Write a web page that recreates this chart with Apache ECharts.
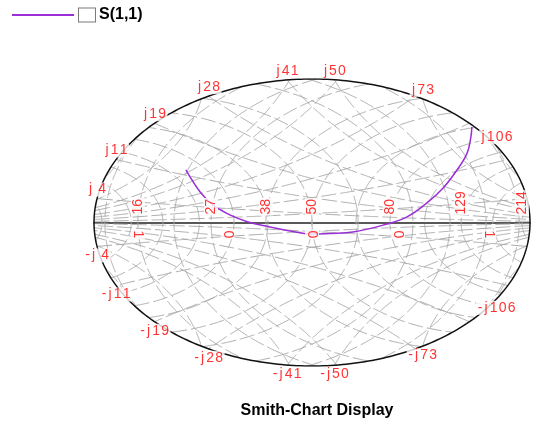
<!DOCTYPE html>
<html>
<head>
<meta charset="utf-8">
<script src="https://cdn.jsdelivr.net/npm/echarts@6/dist/echarts.min.js"></script>
<style>
  html, body { margin: 0; padding: 0; background: #fff; }
  #smithChart { width: 534px; height: 421px; }
</style>
</head>
<body>
<div id="smithChart"></div>
<script>
  // chart reference impedance and the |Γ| shown at the rim (zoomed smith chart)
  const Z0 = 50
  const RHO = 0.645

  // grid circles, ohms
  const resistances = [6, 12, 16, 21, 27, 38, 50, 65, 80, 100, 129, 165, 214, 320]
  const reactances = [4, 11, 19, 28, 41, 50, 73, 106, 160, 250]

  // labels
  const realLabels = [16, 27, 38, 50, 80, 129, 214]
  const admitLabelAt = [16, 30, 50, 84, 160]
  const admitLabels = ['1', '0', '0', '0', '1']
  const rimLabels = [4, 11, 19, 28, 41, 50, 73, 106]

  // S(1,1) trace (reflection coefficient)
  const s11Re = [-0.373, -0.331, -0.293, -0.243, -0.189, -0.124, -0.065, 0.003, 0.053, 0.121, 0.222, 0.281, 0.340, 0.388, 0.429, 0.459, 0.470, 0.473]
  const s11Im = [0.236, 0.137, 0.079, 0.034, 0.002, -0.020, -0.038, -0.052, -0.049, -0.043, -0.007, 0.025, 0.088, 0.155, 0.236, 0.312, 0.384, 0.429]

  const purple = '#9a2fd6'
  const red = '#ff0000'
  const font = 'Liberation Sans, Arial, sans-serif'

  function gammaOf (r, x) {
    let den = (r + 1) * (r + 1) + x * x
    return [(r * r + x * x - 1) / den, (2 * x) / den]
  }

  // circle clipped to |Γ| <= RHO, returns polylines
  function clipCircle (cx, cy, a) {
    let steps = Math.max(720, Math.ceil(a * 2 * Math.PI / 0.003))
    let parts = []
    let cur = []
    for (let i = 0; i <= steps; i++) {
      let t = i / steps * 2 * Math.PI
      let p = [cx + a * Math.cos(t), cy + a * Math.sin(t)]
      if (Math.hypot(p[0], p[1]) <= RHO) {
        cur.push(p)
      } else {
        if (cur.length > 1) parts.push(cur)
        cur = []
      }
    }
    if (cur.length > 1) parts.push(cur)
    return parts
  }

  let gridPaths = []
  resistances.forEach(function (R) {
    let r = R / Z0
    gridPaths = gridPaths.concat(clipCircle(r / (1 + r), 0, 1 / (1 + r)))
  })
  reactances.forEach(function (X) {
    let x = X / Z0
    gridPaths = gridPaths.concat(clipCircle(1, 1 / x, 1 / x))
    gridPaths = gridPaths.concat(clipCircle(1, -1 / x, 1 / x))
  })
  // admittance family = impedance family mirrored through the centre
  gridPaths = gridPaths.concat(gridPaths.map(function (path) {
    return path.map(function (p) { return [-p[0], -p[1]] })
  }))

  let rimPath = []
  for (let i = 0; i <= 360; i++) {
    let t = i * Math.PI / 180
    rimPath.push([RHO * Math.cos(t), RHO * Math.sin(t)])
  }

  // where a reactance arc meets the rim
  function rimPoint (xn) {
    let k = RHO * RHO
    let b = 1 + k
    let c = 1 - k
    let r = (b - Math.sqrt(b * b - c * c * (1 + xn * xn))) / c
    return gammaOf(r, xn)
  }

  let rimLabelData = []
  rimLabels.forEach(function (X) {
    let txt = String(X).padStart(2, ' ')
    let p = rimPoint(X / Z0)
    rimLabelData.push({ value: [p[0], p[1]], name: 'j' + txt, label: { offset: [0, -9] } })
    rimLabelData.push({ value: [p[0], -p[1]], name: '-j' + txt, label: { offset: [0, 9] } })
  })

  let realLabelData = realLabels.map(function (R) {
    return { value: [gammaOf(R / Z0, 0)[0], 0], name: String(R) }
  })
  let admitLabelData = admitLabelAt.map(function (R, i) {
    return { value: [gammaOf(R / Z0, 0)[0], 0], name: admitLabels[i] }
  })

  let traceData = s11Re.map(function (v, i) { return [v, s11Im[i]] })

  // the old chart font is widely spaced: one rich cell per character
  function spaced (txt) {
    return txt.split('').map(function (ch) {
      if (ch === ' ') return '{s| }'
      if (ch === 'j' || ch === '-') return '{n|' + ch + '}'
      return '{c|' + ch + '}'
    }).join('')
  }

  let labelFont = {
    color: red,
    fontSize: 14,
    fontFamily: font,
  }

  let option = {
    animation: false,
    title: {
      text: 'Smith-Chart Display',
      left: 312,
      textAlign: 'center',
      top: 398,
      textStyle: { fontSize: 16, fontWeight: 'bold', color: '#000', fontFamily: font },
    },
    legend: {
      left: 7,
      top: 2,
      itemWidth: 62,
      itemHeight: 2,
      data: [{ name: 'S(1,1)', icon: 'rect' }],
      selectedMode: false,
      formatter: function (name) {
        return '{box|}{t|' + name + '}'
      },
      textStyle: {
        rich: {
          box: {
            width: 16,
            height: 13,
            borderColor: '#7a7a7a',
            borderWidth: 1,
            backgroundColor: '#fff',
          },
          t: {
            fontSize: 16,
            fontWeight: 'bold',
            color: '#000',
            fontFamily: font,
            padding: [0, 0, 0, 4],
          },
        },
      },
    },
    grid: { left: 94, right: 4, top: 79, bottom: 55 },
    xAxis: {
      type: 'value',
      min: -RHO,
      max: RHO,
      axisLine: { show: true, onZero: true, lineStyle: { color: '#222', width: 1.5 } },
      axisTick: { show: false },
      axisLabel: { show: false },
      splitLine: { show: false },
    },
    yAxis: {
      type: 'value',
      min: -RHO,
      max: RHO,
      show: false,
    },
    series: [
      {
        type: 'lines',
        coordinateSystem: 'cartesian2d',
        polyline: true,
        silent: true,
        z: 1,
        lineStyle: { color: '#a9a9a9', width: 1, opacity: 1, type: [15, 4] },
        data: gridPaths.map(function (c) { return { coords: c } }),
      },
      {
        type: 'lines',
        coordinateSystem: 'cartesian2d',
        polyline: true,
        silent: true,
        z: 2,
        lineStyle: { color: '#111', width: 1.5, opacity: 1 },
        data: [{ coords: rimPath }],
      },
      {
        name: 'S(1,1)',
        type: 'line',
        z: 4,
        smooth: 0.4,
        showSymbol: false,
        color: purple,
        lineStyle: { color: purple, width: 1.5 },
        data: traceData,
      },
      {
        type: 'scatter',
        z: 6,
        silent: true,
        symbolSize: 1,
        itemStyle: { color: 'transparent' },
        label: {
          show: true,
          position: 'inside',
          formatter: function (p) { return spaced(p.name) },
          backgroundColor: '#fff',
          padding: [0, 1],
          rich: {
            c: Object.assign({ width: 9, align: 'center' }, labelFont),
            n: Object.assign({ width: 6, align: 'center' }, labelFont),
            s: Object.assign({ width: 4 }, labelFont),
          },
        },
        data: rimLabelData,
      },
      {
        type: 'scatter',
        z: 6,
        silent: true,
        symbolSize: 1,
        itemStyle: { color: 'transparent' },
        label: Object.assign({
          show: true,
          position: 'inside',
          rotate: 90,
          align: 'left',
          verticalAlign: 'middle',
          offset: [7, 0],
          formatter: '{b}',
          backgroundColor: '#fff',
          padding: [0, 1],
        }, labelFont),
        data: realLabelData,
      },
      {
        type: 'scatter',
        z: 6,
        silent: true,
        symbolSize: 1,
        itemStyle: { color: 'transparent' },
        label: Object.assign({
          show: true,
          position: 'inside',
          rotate: -90,
          align: 'left',
          verticalAlign: 'middle',
          offset: [7, 0],
          formatter: '{b}',
          backgroundColor: '#fff',
          padding: [0, 1],
        }, labelFont),
        data: admitLabelData,
      },
    ],
  }

  let smithChart = echarts.init(document.getElementById('smithChart'))
  smithChart.setOption(option)
</script>
</body>
</html>
